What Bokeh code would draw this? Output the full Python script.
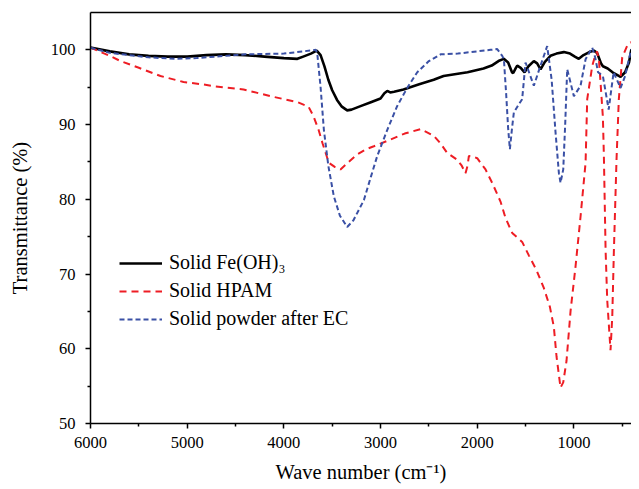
from bokeh.plotting import figure
from bokeh.models import (Range1d, FixedTicker, LinearAxis, Legend, LegendItem)
from bokeh.embed import file_html
from bokeh.resources import INLINE

# Solid Fe(OH)3
fe_w = [6000, 5800, 5600, 5400, 5200, 5000, 4800, 4600, 4400, 4200, 4000, 3860, 3800, 3720, 3660,
        3620, 3580, 3540, 3500, 3450, 3400, 3345, 3300, 3200, 3100, 3000, 2960, 2930, 2900, 2860,
        2762, 2600, 2450, 2348, 2200, 2100, 1935, 1850, 1780, 1725, 1680, 1640, 1627, 1600, 1586,
        1550, 1510, 1470, 1414, 1380, 1345, 1300, 1242, 1180, 1104, 1040, 990, 949, 900, 840, 793,
        760, 720, 700, 650, 600, 517, 470, 430, 405]
fe_t = [100.3, 99.8, 99.4, 99.2, 99.1, 99.1, 99.3, 99.4, 99.3, 99.1, 98.9, 98.8, 99.1, 99.5, 99.9,
        99.3, 97.8, 96.0, 94.6, 93.3, 92.4, 91.9, 92.0, 92.5, 93.0, 93.5, 94.2, 94.5, 94.3, 94.4,
        94.7, 95.4, 96.0, 96.5, 96.8, 97.0, 97.5, 97.9, 98.5, 98.8, 98.3, 97.0, 96.9, 97.6, 97.9,
        97.6, 97.0, 97.8, 98.5, 98.2, 97.4, 98.4, 99.2, 99.5, 99.7, 99.5, 99.1, 98.8, 99.3, 99.7, 99.9,
        99.6, 98.2, 97.8, 97.5, 97.0, 96.4, 97.0, 98.3, 100.1]

# Solid HPAM
hp_w = [6000, 5800, 5690, 5500, 5276, 5038, 4850, 4707, 4417, 4138, 3858, 3745, 3693, 3641, 3600,
        3535, 3470, 3414, 3330, 3241, 3150, 3069, 2897, 2750, 2586, 2449, 2380, 2310, 2207, 2160,
        2121, 2100, 2086, 2040, 2000, 1914, 1845, 1759, 1707, 1638, 1535, 1466, 1386, 1310, 1248,
        1207, 1179, 1138, 1110, 1076, 1034, 983, 931, 879, 862, 810, 776, 760, 740, 724, 700, 690,
        672, 655, 621, 603, 586, 559, 535, 500, 450, 414, 405]
hp_t = [100.3, 99.2, 98.5, 97.6, 96.5, 95.7, 95.4, 95.1, 94.7, 93.8, 93.0, 92.4, 91.1, 89.3, 87.5,
        84.9, 84.3, 84.0, 85.0, 86.0, 86.7, 87.1, 88.0, 88.8, 89.4, 88.5, 87.5, 86.2, 85.3, 84.5,
        83.5, 84.5, 85.8, 85.7, 85.5, 84.0, 82.2, 79.7, 77.5, 75.5, 74.3, 72.5, 70.5, 68.1, 65.6,
        62.9, 58.9, 54.8, 55.5, 58.4, 65.1, 71.0, 77.7, 84.9, 93.4, 97.85, 99.4, 99.8, 98.5, 95.6, 91.0, 86.0,
        73.2, 66.5, 59.8, 64.3, 73.2, 85.3, 93.4, 99.0, 100.5, 101.0, 101.0]

# Solid powder after EC
ec_w = [6000, 5800, 5600, 5400, 5121, 4900, 4700, 4400, 4000, 3800, 3670, 3655, 3620, 3586, 3540,
        3483, 3420, 3345, 3280, 3172, 3100, 3034, 2930, 2827, 2720, 2620, 2500, 2379, 2200, 2000,
        1862, 1793, 1741, 1724, 1700, 1680, 1662, 1640, 1621, 1580, 1535, 1500, 1414, 1345, 1276,
        1230, 1190, 1155, 1138, 1110, 1090, 1069, 1000, 931, 879, 810, 780, 750, 700, 660, 640,
        620, 589, 517, 470, 430, 405]
ec_t = [100.3, 99.6, 99.3, 99.0, 98.8, 98.9, 99.1, 99.4, 99.5, 99.8, 100.0, 99.6, 95.0, 89.3, 84.5,
        80.4, 77.8, 76.3, 77.2, 79.9, 83.0, 85.8, 89.3, 92.5, 95.0, 97.0, 98.5, 99.4, 99.5, 99.8,
        100.0, 100.1, 99.2, 98.75, 94.0, 89.5, 86.7, 89.5, 91.6, 92.5, 93.4, 98.3, 95.2, 97.9, 100.5,
        96.0, 89.0, 83.5, 82.2, 84.0, 90.0, 97.4, 93.8, 95.2, 98.75, 100.3, 99.0, 97.0, 96.5, 93.5, 92.0,
        94.0, 97.0, 94.9, 96.5, 98.8, 100.1]

x_major = [6000, 5000, 4000, 3000, 2000, 1000]
x_minor = [5500, 4500, 3500, 2500, 1500, 500]
y_major = [50, 60, 70, 80, 90, 100]
y_minor = [55, 65, 75, 85, 95]

FONT = "Liberation Serif"

p = figure(width=631, height=485, output_backend="svg", toolbar_location=None,
           x_range=Range1d(6000, 404), y_range=Range1d(50, 105),
           min_border_left=90, min_border_right=0, min_border_top=12, min_border_bottom=62,
           x_axis_label="Wave number (cm\u207b\u00b9)", y_axis_label="Transmittance (%)")
p.outline_line_color = None
p.grid.visible = False
p.background_fill_color = "white"
p.border_fill_color = "white"

for ax, maj, mnr in ((p.xaxis[0], x_major, x_minor), (p.yaxis[0], y_major, y_minor)):
    ax.ticker = FixedTicker(ticks=maj, minor_ticks=mnr)
    ax.axis_line_width = 1.5
    ax.axis_line_color = "black"
    ax.major_tick_line_width = 1.5
    ax.minor_tick_line_width = 1.5
    ax.major_tick_in = 0
    ax.major_tick_out = 5
    ax.minor_tick_in = 0
    ax.minor_tick_out = 3
    ax.major_label_text_font = FONT
    ax.major_label_text_font_size = "16.5px"
    ax.major_label_text_color = "black"
    ax.major_label_standoff = 8
    ax.axis_label_text_font = FONT
    ax.axis_label_text_font_size = "20.5px"
    ax.axis_label_text_font_style = "normal"
    ax.axis_label_text_color = "black"
p.xaxis[0].axis_label_standoff = 10
p.yaxis[0].major_label_standoff = 10
p.yaxis[0].axis_label_standoff = 17

top = LinearAxis(ticker=FixedTicker(ticks=[]), axis_line_width=1.5, axis_line_color="black",
                 major_tick_out=0, major_tick_in=0, minor_tick_out=0, minor_tick_in=0,
                 major_label_standoff=0, major_label_text_font_size="0px")
p.add_layout(top, "above")

r_fe = p.line(fe_w, fe_t, line_color="black", line_width=2.6)
r_hp = p.line(hp_w, hp_t, line_color="#ee1d24", line_width=2, line_dash="7 5")
r_ec = p.line(ec_w, ec_t, line_color="#3a50a5", line_width=2, line_dash="5 3")

legend = Legend(items=[LegendItem(label="Solid Fe(OH)\u2083", renderers=[r_fe]),
                       LegendItem(label="Solid HPAM", renderers=[r_hp]),
                       LegendItem(label="Solid powder after EC", renderers=[r_ec])],
                location=(29, 93), border_line_color=None, background_fill_alpha=0,
                glyph_width=43, glyph_height=20, label_standoff=7, spacing=5, padding=10,
                label_text_font=FONT, label_text_font_size="20px", label_text_color="black")
p.add_layout(legend, "center")

open("out.html", "w").write(file_html(p, INLINE))
